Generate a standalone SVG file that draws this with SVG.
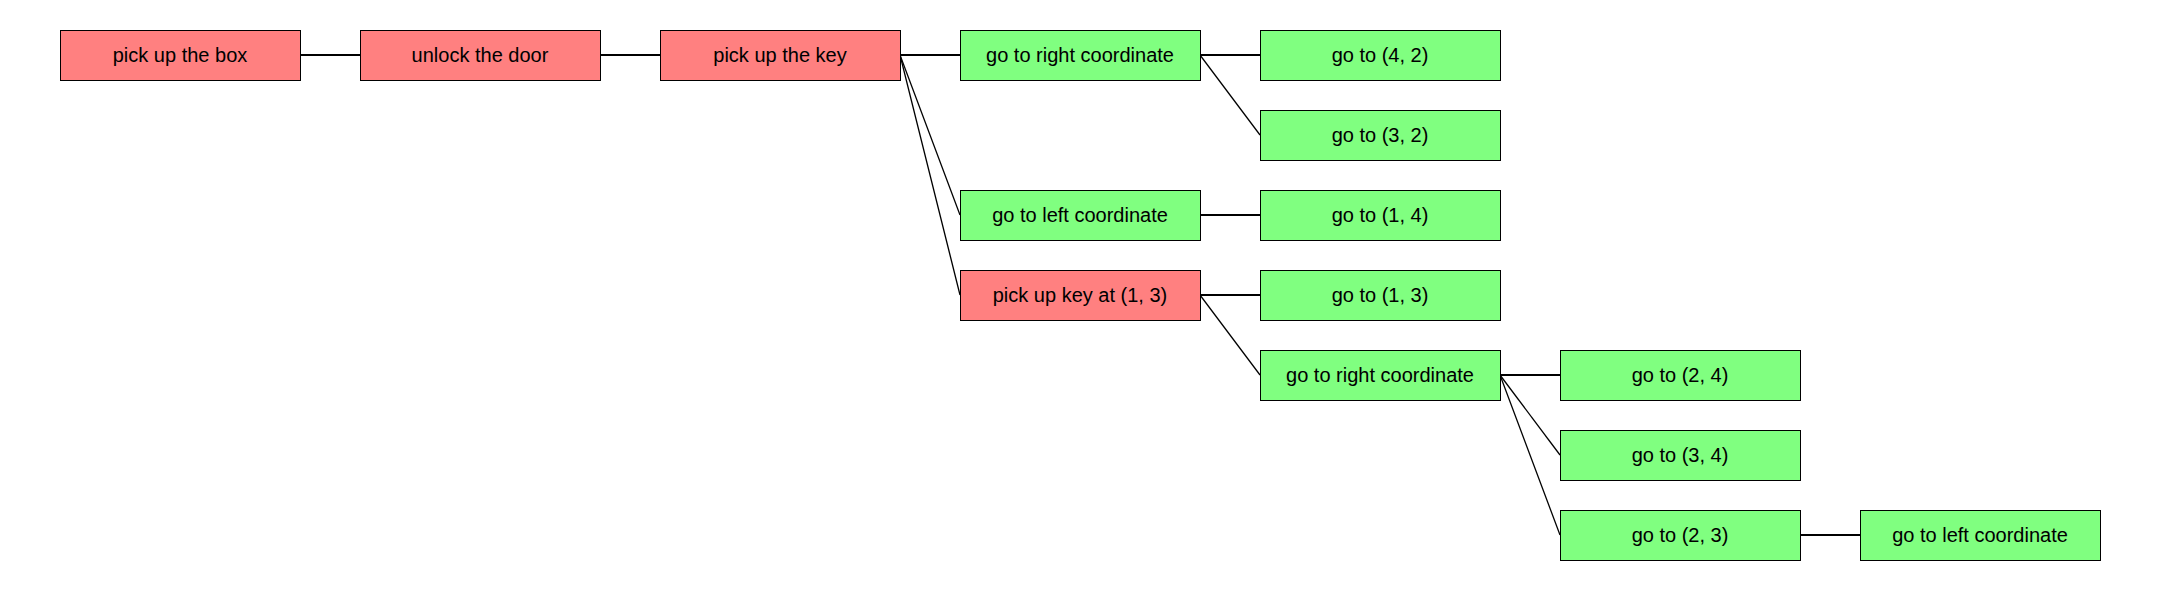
<svg xmlns="http://www.w3.org/2000/svg" width="2160" height="590" viewBox="0 0 2160 590">
<style>
.red{fill:#FF8080;stroke:#000;stroke-width:1}
.green{fill:#80FF80;stroke:#000;stroke-width:1}
text{font-family:"Liberation Sans",Arial,sans-serif;font-size:20px;fill:#000;text-anchor:middle;dominant-baseline:central}
.h{stroke:#000;stroke-width:2;fill:none}
.d{stroke:#000;stroke-width:1.3;fill:none}
</style>
<rect width="2160" height="590" fill="#fff"/>
<g id="connectors">
<line class="h" x1="300" y1="55" x2="360" y2="55"/>
<line class="h" x1="600" y1="55" x2="660" y2="55"/>
<line class="h" x1="900" y1="55" x2="960" y2="55"/>
<line class="d" x1="900" y1="55" x2="960" y2="215"/>
<line class="d" x1="900" y1="55" x2="960" y2="295"/>
<line class="h" x1="1200" y1="55" x2="1260" y2="55"/>
<line class="d" x1="1200" y1="55" x2="1260" y2="135"/>
<line class="h" x1="1200" y1="215" x2="1260" y2="215"/>
<line class="h" x1="1200" y1="295" x2="1260" y2="295"/>
<line class="d" x1="1200" y1="295" x2="1260" y2="375"/>
<line class="h" x1="1500" y1="375" x2="1560" y2="375"/>
<line class="d" x1="1500" y1="375" x2="1560" y2="455"/>
<line class="d" x1="1500" y1="375" x2="1560" y2="535"/>
<line class="h" x1="1800" y1="535" x2="1860" y2="535"/>
</g>
<g id="n1"><rect class="red" x="60.5" y="30.5" width="240" height="50"/><text x="180" y="55">pick up the box</text></g>
<g id="n2"><rect class="red" x="360.5" y="30.5" width="240" height="50"/><text x="480" y="55">unlock the door</text></g>
<g id="n3"><rect class="red" x="660.5" y="30.5" width="240" height="50"/><text x="780" y="55">pick up the key</text></g>
<g id="n4"><rect class="green" x="960.5" y="30.5" width="240" height="50"/><text x="1080" y="55">go to right coordinate</text></g>
<g id="n5"><rect class="green" x="1260.5" y="30.5" width="240" height="50"/><text x="1380" y="55">go to (4, 2)</text></g>
<g id="n6"><rect class="green" x="1260.5" y="110.5" width="240" height="50"/><text x="1380" y="135">go to (3, 2)</text></g>
<g id="n7"><rect class="green" x="960.5" y="190.5" width="240" height="50"/><text x="1080" y="215">go to left coordinate</text></g>
<g id="n8"><rect class="green" x="1260.5" y="190.5" width="240" height="50"/><text x="1380" y="215">go to (1, 4)</text></g>
<g id="n9"><rect class="red" x="960.5" y="270.5" width="240" height="50"/><text x="1080" y="295">pick up key at (1, 3)</text></g>
<g id="n10"><rect class="green" x="1260.5" y="270.5" width="240" height="50"/><text x="1380" y="295">go to (1, 3)</text></g>
<g id="n11"><rect class="green" x="1260.5" y="350.5" width="240" height="50"/><text x="1380" y="375">go to right coordinate</text></g>
<g id="n12"><rect class="green" x="1560.5" y="350.5" width="240" height="50"/><text x="1680" y="375">go to (2, 4)</text></g>
<g id="n13"><rect class="green" x="1560.5" y="430.5" width="240" height="50"/><text x="1680" y="455">go to (3, 4)</text></g>
<g id="n14"><rect class="green" x="1560.5" y="510.5" width="240" height="50"/><text x="1680" y="535">go to (2, 3)</text></g>
<g id="n15"><rect class="green" x="1860.5" y="510.5" width="240" height="50"/><text x="1980" y="535">go to left coordinate</text></g>
</svg>
